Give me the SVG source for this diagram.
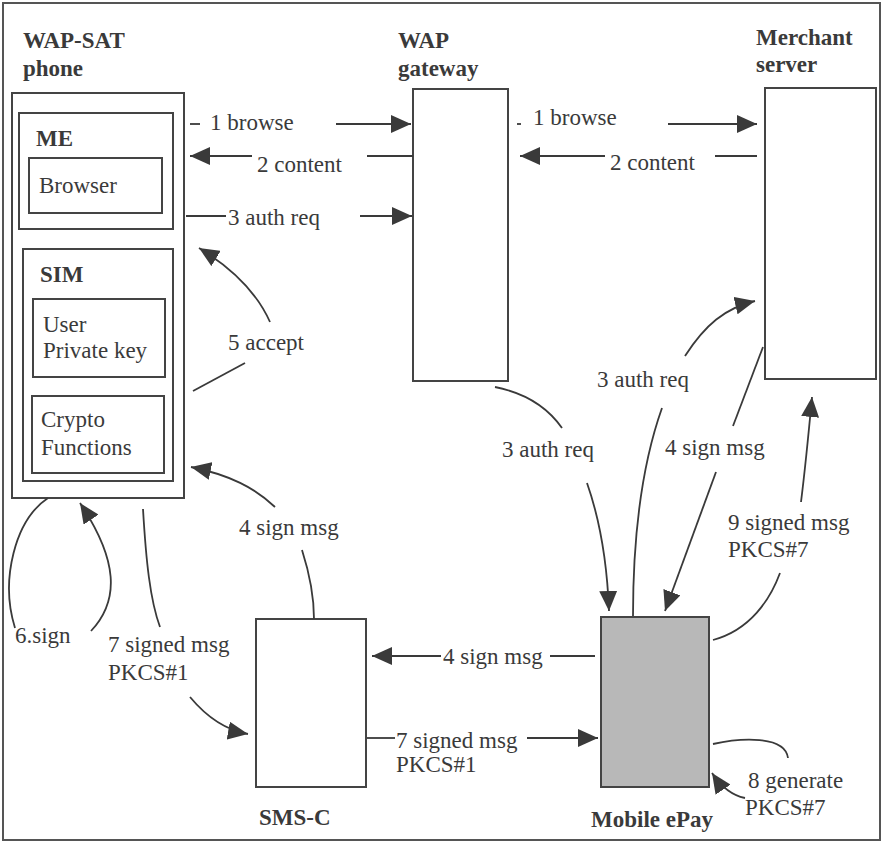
<svg xmlns="http://www.w3.org/2000/svg" width="884" height="843" viewBox="0 0 884 843">
<defs>
<style>
text{font-family:"Liberation Serif","Times New Roman",serif;font-size:23px;fill:#3a3a3a}
.b{font-weight:bold}
.box{fill:#fff;stroke:#444;stroke-width:2}
.c{fill:none;stroke:#3a3a3a;stroke-width:1.8}
.a{marker-end:url(#ah)}
</style>
<marker id="ah" markerUnits="userSpaceOnUse" markerWidth="20" markerHeight="18" refX="20" refY="9" orient="auto" viewBox="0 0 20 18">
<path d="M0,0 L20,9 L0,18 z" fill="#3a3a3a"/>
</marker>
</defs>
<rect x="0" y="0" width="884" height="843" fill="#fff"/>
<rect x="3" y="3" width="877" height="837" fill="none" stroke="#555" stroke-width="2"/>

<g id="phone">
<rect class="box" x="12" y="93" width="172" height="405"/>
<text class="b" x="23" y="48">WAP-SAT</text>
<text class="b" x="23" y="76">phone</text>
</g>
<g id="me">
<rect class="box" x="19" y="113" width="154" height="116"/>
<text class="b" x="36" y="146">ME</text>
</g>
<g id="browser">
<rect class="box" x="29" y="158" width="133" height="55"/>
<text x="39" y="193">Browser</text>
</g>
<g id="sim">
<rect class="box" x="23" y="249" width="150" height="232"/>
<text class="b" x="40" y="282">SIM</text>
</g>
<g id="privkey">
<rect class="box" x="33" y="299" width="132" height="78"/>
<text x="43" y="332">User</text>
<text x="43" y="358">Private key</text>
</g>
<g id="crypto">
<rect class="box" x="32" y="396" width="132" height="77"/>
<text x="41" y="427">Crypto</text>
<text x="41" y="455">Functions</text>
</g>
<g id="wapgw">
<rect class="box" x="413" y="89" width="95" height="292"/>
<text class="b" x="398" y="48">WAP</text>
<text class="b" x="398" y="76">gateway</text>
</g>
<g id="merchant">
<rect class="box" x="765" y="88" width="111" height="291"/>
<text class="b" x="756" y="45">Merchant</text>
<text class="b" x="756" y="72">server</text>
</g>
<g id="smsc">
<rect class="box" x="256" y="619" width="110" height="168"/>
<text class="b" x="259" y="825">SMS-C</text>
</g>
<g id="epay">
<rect x="601" y="617" width="108" height="170" fill="#b8b8b8" stroke="#444" stroke-width="2"/>
<text class="b" x="591" y="827">Mobile ePay</text>
</g>

<g id="connectors">
<line class="c" x1="190" y1="124" x2="200" y2="124"/>
<line class="c a" x1="336" y1="124" x2="411" y2="124"/>
<line class="c" x1="367" y1="156" x2="413" y2="156"/>
<line class="c a" x1="252" y1="156" x2="190" y2="156"/>
<line class="c" x1="186" y1="216" x2="226" y2="216"/>
<line class="c a" x1="360" y1="216" x2="412" y2="216"/>
<line class="c" x1="517" y1="124" x2="521" y2="124"/>
<line class="c a" x1="668" y1="124" x2="757" y2="124"/>
<line class="c" x1="715" y1="156" x2="757" y2="156"/>
<line class="c a" x1="605" y1="156" x2="520" y2="156"/>
<path class="c a" d="M270,322 C258,295 235,270 199,248"/>
<line class="c" x1="245" y1="363" x2="193" y2="391"/>
<path class="c a" d="M275,507 C255,488 230,475 191,467"/>
<path class="c" d="M302,550 C310,575 314,595 314,619"/>
<path class="c" d="M48,498 C15,520 0,580 15,628"/>
<path class="c a" d="M91,631 C120,600 118,560 80,503"/>
<path class="c" d="M143,509 C146,560 150,600 160,627"/>
<path class="c a" d="M190,697 C205,715 225,730 248,734"/>
<line class="c" x1="595" y1="656" x2="550" y2="656"/>
<line class="c a" x1="441" y1="656" x2="372" y2="656"/>
<line class="c" x1="367" y1="738" x2="395" y2="738"/>
<line class="c a" x1="527" y1="738" x2="598" y2="738"/>
<path class="c" d="M495,387 C525,393 548,408 562,428"/>
<path class="c a" d="M587,483 C600,520 607,560 609,611"/>
<path class="c" d="M633,616 C633,540 640,470 662,408"/>
<path class="c a" d="M685,356 C705,325 725,308 755,301"/>
<line class="c" x1="763" y1="347" x2="733" y2="426"/>
<line class="c a" x1="716" y1="472" x2="665" y2="611"/>
<path class="c" d="M713,640 C750,630 770,600 780,573"/>
<path class="c a" d="M801,502 C805,470 808,440 812,397"/>
<path class="c" d="M713,744 C740,738 785,735 788,758"/>
<path class="c a" d="M745,798 C730,795 720,785 712,773"/>
</g>

<g id="labels">
<text x="210" y="130">1 browse</text>
<text x="257" y="172">2 content</text>
<text x="228" y="225">3 auth req</text>
<text x="533" y="125">1 browse</text>
<text x="610" y="170">2 content</text>
<text x="228" y="350">5 accept</text>
<text x="502" y="457">3 auth req</text>
<text x="597" y="387">3 auth req</text>
<text x="665" y="455">4 sign msg</text>
<text x="728" y="530">9 signed msg</text>
<text x="728" y="557">PKCS#7</text>
<text x="239" y="535">4 sign msg</text>
<text x="15" y="643">6.sign</text>
<text x="108" y="652">7 signed msg</text>
<text x="108" y="680">PKCS#1</text>
<text x="443" y="664">4 sign msg</text>
<text x="396" y="748">7 signed msg</text>
<text x="396" y="772">PKCS#1</text>
<text x="748" y="788">8 generate</text>
<text x="745" y="815">PKCS#7</text>
</g>
</svg>
